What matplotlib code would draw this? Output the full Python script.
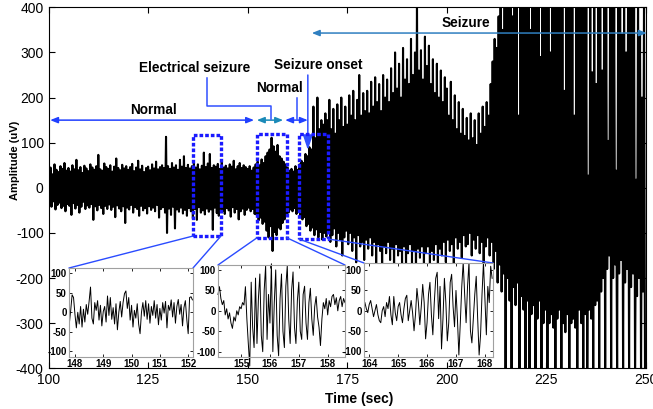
import numpy as np
import matplotlib.pyplot as plt
from matplotlib.patches import Rectangle, ConnectionPatch

plt.rcParams['font.family'] = ['Liberation Sans', 'DejaVu Sans']
plt.rcParams['axes.unicode_minus'] = False

# main EEG trace: peak (upper) and trough (lower) per half second
t_start = 100.0
t_step = 0.5
upper = [
    38, 45, 30, 52, 40, 35, 48, 42, 55, 38,
    44, 36, 50, 41, 62, 39, 46, 33, 49, 43,
    37, 52, 45, 40, 48, 73, 41, 38, 54, 46,
    42, 50, 36, 47, 65, 44, 39, 51, 43, 48,
    40, 46, 53, 37, 45, 60, 41, 49, 35, 44,
    47, 39, 52, 43, 58, 41, 46, 50, 44, 113,
    48, 42, 55, 45, 50, 40, 62, 47, 70, 44,
    51, 43, 48, 57, 45, 52, 41, 49, 78, 46,
    54, 75, 44, 50, 47, 53, 42, 58, 45, 49,
    43, 52, 47, 60, 41, 48, 55, 44, 50, 46,
    42, 48, 38, 45, 52, 58, 50, 63, 55, 70,
    78, 85, 111, 92, 80, 95, 70, 65, 58, 52,
    45, 38, 42, 36, 48, 40, 52, 60, 55, 75,
    70, 90, 85, 180, 110, 200, 130, 150, 140, 165,
    150, 195, 130, 175, 120, 185, 150, 200, 135, 180,
    140, 205, 160, 215, 150, 195, 250, 160, 210, 170,
    215, 165, 235, 180, 245, 190, 230, 170, 250, 200,
    240, 190, 265, 210, 300, 220, 275, 200, 310, 240,
    285, 230, 330, 250, 300, 420, 260, 305, 240, 335,
    270, 315, 230, 285, 210, 275, 200, 260, 190, 245,
    220, 160, 235, 150, 205, 130, 190, 120, 175, 115,
    155, 105, 165, 110, 150, 95, 165, 120, 180, 135,
    190, 160, 230, 280, 330, 310, 380, 420, 350, 420,
    420, 420, 420, 380, 420, 420, 160, 420, 420, 420,
    420, 420, 350, 420, 420, 420, 420, 290, 420, 420,
    420, 420, 300, 420, 420, 420, 420, 420, 420, 215,
    420, 420, 420, 420, 160, 420, 420, 420, 420, 420,
    420, 27, 420, 256, 420, 230, 420, 420, 260, 420,
    420, 104, 420, 420, 420, 38, 420, 420, 340, 420,
    300, 420, 420, 420, 420, 18, 420, 340, 200, 420,
]
lower = [
    -35, -42, -30, -48, -38, -33, -45, -40, -52, -36,
    -40, -60, -34, -46, -38, -55, -42, -31, -47, -39,
    -44, -36, -71, -41, -50, -38, -45, -58, -40, -47,
    -37, -49, -42, -65, -39, -46, -52, -41, -78, -44,
    -48, -38, -55, -43, -47, -62, -40, -50, -45, -57,
    -41, -49, -44, -52, -38, -66, -47, -43, -55, -100,
    -46, -60, -42, -90, -48, -53, -44, -57, -49, -62,
    -45, -52, -68, -47, -71, -43, -55, -50, -59, -46,
    -53, -48, -93, -44, -56, -62, -47, -51, -58, -45,
    -50, -64, -43, -55, -47, -70, -52, -46, -60, -49,
    -44, -52, -47, -58, -60, -72, -66, -80, -75, -95,
    -110, -85, -140, -98, -105, -88, -92, -78, -70, -60,
    -55, -48, -52, -45, -58, -50, -62, -70, -65, -85,
    -80, -95, -88, -105, -92, -110, -98, -115, -100, -108,
    -95, -120, -105, -90, -130, -100, -115, -150, -110, -95,
    -125, -100, -140, -110, -165, -105, -130, -120, -160, -115,
    -135, -110, -150, -120, -180, -125, -140, -200, -130, -145,
    -120, -160, -135, -210, -125, -150, -140, -175, -130, -190,
    -145, -125, -170, -140, -220, -135, -155, -130, -185, -145,
    -130, -175, -140, -160, -125, -200, -135, -150, -120, -165,
    -115, -140, -125, -180, -110, -135, -120, -155, -105, -130,
    -125, -100, -150, -115, -135, -105, -145, -120, -170, -130,
    -110, -150, -120, -180, -140, -210, -170, -230, -190, -400,
    -200, -250, -420, -220, -260, -210, -420, -240, -270, -420,
    -250, -420, -280, -260, -420, -290, -250, -420, -300, -270,
    -420, -300, -280, -310, -420, -290, -270, -420, -300, -320,
    -280, -420, -300, -290, -310, -420, -270, -300, -420, -280,
    -420, -270, -290, -420, -260, -250, -420, -230, -200, -420,
    -180, -150, -420, -200, -170, -420, -190, -160, -420, -210,
    -180, -420, -220, -190, -420, -240, -200, -420, -230, -420,
]

# zoomed segments (0.05 s samples)
ins1_start = 147.8
ins1_vals = [
    -30, 5, 45, 38, -5, -40, 0, -30, 15, -38,
    8, -25, 20, -5, 28, 65, -15, -30, 25, 5,
    30, -20, 18, -35, 2, 15, -25, 42, -8, 38,
    -18, 12, -30, 22, -45, 0, 28, -12, 25, 48,
    55, 10, 38, -20, 18, -38, 5, -15, 22, -30,
    -55, 0, 25, -10, 30, -18, 22, -28, 15, -8,
    30, -15, 20, -32, 10, -20, 25, -2, 28, -40,
    18, 5, 32, -12, 25, -28, 15, 33, -5, 20,
    -35, 12, 30, -18, -55, 38, 40, 32,
]
ins2_start = 154.2
ins2_vals = [
    40, 59, 30, 15, 25, -10, 5, -20, -5, -30,
    -43, -15, -25, 0, -10, 10, 5, 20, 14, 59,
    -20, -80, -135, 70, -40, -90, 80, -80, 30, 90,
    -60, -100, 50, 110, -70, 40, -30, 115, -100, 20,
    100, -60, -110, 30, 90, -50, -90, 60, 110, -20,
    -80, 50, 95, -40, -80, 25, 70, -50, -70, 40,
    60, -30, -70, 20, 55, -20, -60, 10, 35, -15,
    -40, -85, -20, 20, 5, 30, -10, 25, 10, 35,
    40, 15, 32, 0, 25, 35, 10, 30, 20,
]
ins3_start = 163.85
ins3_vals = [
    20, 5, -5, 15, 25, 5, -15, 0, 15, -10,
    -25, -30, 0, 10, -15, 20, 5, 35, -10, -35,
    35, -5, -25, 10, 20, -10, -30, 5, 30, 38,
    -25, 0, 25, -5, -50, -10, 55, 20, -35, 10,
    65, 20, -70, -30, 40, 70, -10, -60, 20, 80,
    95, -20, 60, -95, -20, 80, 20, -75, -30, 70,
    90, 10, -40, 50, -20, -110, -30, 60, 120, 40,
    -30, 60, 120, -50, -80, -20, 40, 85, -20, -110,
    -60, 40, 120, 30, -60, 60, 20, 110, 80,
]
ins_step = 0.05

fig = plt.figure(figsize=(6.53, 4.09), dpi=100)
ax = fig.add_axes([0.0743, 0.0995, 0.915, 0.8826])

t_up = t_start + t_step * np.arange(len(upper))
t_lo = t_up + t_step / 2
x = np.column_stack([t_up, t_lo]).ravel()
y = np.column_stack([upper, lower]).ravel()
ax.plot(x, y, color='black', lw=1.5, zorder=2)

ax.set_xlim(100, 250)
ax.set_ylim(-400, 400)
ax.set_xticks([100, 125, 150, 175, 200, 225, 250])
ax.set_yticks(range(-400, 401, 100))
ax.tick_params(direction='in', length=4, labelsize=10, top=True, right=True)
ax.set_xlabel('Time (sec)', fontsize=10, fontweight='bold')
ax.set_ylabel('Amplitude (uV)', fontsize=8, fontweight='bold')
ax.xaxis.set_label_coords(0.52, -0.065)
ax.yaxis.set_label_coords(-0.048, 0.577)

# dashed boxes marking the zoomed segments
boxes = [(136.3, -106.8, 143.3, 117), (152.3, -111, 159.9, 119), (162.9, -113.5, 170.2, 119)]
for x0, y0, x1, y1 in boxes:
    ax.add_patch(Rectangle((x0, y0), x1 - x0, y1 - y0, fill=False, ec='#1a1aff',
                           lw=2.4, ls=(0, (1.1, 0.6)), zorder=4))

# state arrows
def span(x0, x1, yy, col):
    ax.annotate('', xy=(x1, yy), xytext=(x0, yy), annotation_clip=False,
                arrowprops=dict(arrowstyle='<|-|>,head_length=0.45,head_width=0.18',
                                color=col, lw=1.1, shrinkA=0, shrinkB=0, mutation_scale=10))

span(100.4, 151.6, 150, '#2040ff')
span(152.3, 158.9, 150, '#1a8ab8')
span(159.4, 165.1, 150, '#2040ff')
span(166.1, 250.2, 343, '#2f7fc0')

lead = '#3050ff'
ax.plot([139.8, 139.8, 155.9, 155.9], [243, 181, 181, 152], color=lead, lw=1.1, zorder=4)
ax.plot([162.3, 162.3], [199, 152], color=lead, lw=1.1, zorder=4)
ax.annotate('', xy=(165.1, 84), xytext=(165.1, 250),
            arrowprops=dict(arrowstyle='-|>,head_length=0.9,head_width=0.3',
                            color=lead, lw=1.1, shrinkA=0, shrinkB=0, mutation_scale=10))

txt = dict(ha='center', va='center', fontsize=9.8, fontweight='bold')
ax.text(126.4, 172, 'Normal', **txt)
ax.text(136.8, 265, 'Electrical seizure', **txt)
ax.text(157.9, 222, 'Normal', **txt)
ax.text(167.7, 272, 'Seizure onset', **txt)
ax.text(204.8, 365, 'Seizure', **txt)

# insets
insets = [
    ([69 / 653, 52 / 409, 124 / 653, 89 / 409], ins1_start, ins1_vals, (147.79, 152.17), (-115, 114), [148, 149, 150, 151, 152]),
    ([218 / 653, 52 / 409, 127 / 653, 92 / 409], ins2_start, ins2_vals, (154.2, 158.6), (-113, 112), [155, 156, 157, 158]),
    ([364 / 653, 52 / 409, 129 / 653, 94 / 409], ins3_start, ins3_vals, (163.82, 168.28), (-115, 118), [164, 165, 166, 167, 168]),
]
for (rect, start, vals, xl, yl, xt), (x0, y0, x1, y1) in zip(insets, boxes):
    ins = fig.add_axes(rect, zorder=5)
    tt = start + ins_step * np.arange(len(vals))
    ins.plot(tt, vals, color='black', lw=0.7, clip_on=(start != ins2_start))
    ins.set_xlim(*xl)
    ins.set_ylim(*yl)
    ins.set_xticks(xt)
    ins.set_yticks([-100, -50, 0, 50, 100])
    ins.tick_params(direction='in', length=2, labelsize=7, pad=1.5, top=True, right=True, width=0.6)
    for lab in ins.get_xticklabels() + ins.get_yticklabels():
        lab.set_fontweight('bold')
    for sp in ins.spines.values():
        sp.set_color('#a0a0a0')
        sp.set_linewidth(0.8)
    for xa, xb in [(x0, 0), (x1, 1)]:
        cp = ConnectionPatch(xyA=(xa, y0), coordsA=ax.transData, xyB=(xb, 1), coordsB=ins.transAxes,
                             color='#2a4bff', lw=1.0)
        fig.add_artist(cp)

fig.savefig('out.png', dpi=100)
